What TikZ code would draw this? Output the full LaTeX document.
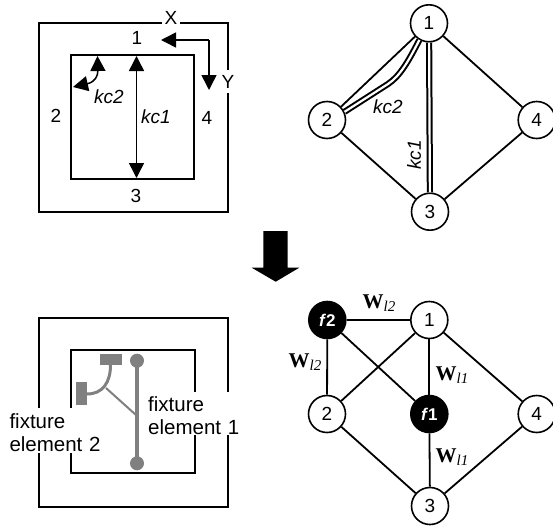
\documentclass[tikz,border=0pt]{standalone}
\usepackage{fontspec}
\usepackage{tikz}
\setmainfont{Liberation Sans}
\newfontfamily\timesfont{Liberation Serif}
\usetikzlibrary{positioning,arrows.meta}

\tikzset{
    panel/.style={line width=1.8pt},
    vertex/.style={circle, draw, line width=1.6pt, fill=white, minimum size=37pt, inner sep=0pt, font=\fontsize{19}{19}\selectfont},
    fixturevertex/.style={circle, draw, line width=1.6pt, fill=black, text=white, minimum size=37pt, inner sep=0pt, font=\fontsize{17}{17}\selectfont\bfseries},
    member/.style={line width=1.8pt},
    stiff/.style={double, double distance=2.2pt, line width=2pt},
    sidelabel/.style={font=\fontsize{19}{19}\selectfont, inner sep=1pt},
    kclabel/.style={font=\fontsize{19}{19}\selectfont\itshape, inner sep=0pt},
    fixturelabel/.style={font=\fontsize{20.5}{23}\selectfont, align=left, inner sep=0pt, text width=92pt},
    wlabel/.style={inner sep=0pt},
    dimline/.style={line width=1.5pt}
}
\newcommand{\wl}[1]{{\timesfont\fontsize{21}{21}\selectfont\textbf{W}\raisebox{-3pt}{\fontsize{15}{15}\selectfont\textit{l#1}}}}

\begin{document}
\begin{tikzpicture}[x=1pt, y=-1pt, >={Triangle[length=15pt,width=15pt]}]
    \useasboundingbox (0,0) rectangle (553,525);
    % top left plate
    \draw[panel] (38.7,23.3) rectangle (228,212);
    \draw[panel] (70.7,55.3) rectangle (194,178.7);
    \node[sidelabel, fill=white, inner xsep=3pt] (xlabel) at (171,18.3) {X};
    \node[sidelabel, fill=white, inner ysep=5pt] (ylabel) at (228,81.5) {Y};
    \node[sidelabel] (side1) at (137,38) {1};
    \node[sidelabel] (side2) at (56,116) {2};
    \node[sidelabel] (side3) at (136,196) {3};
    \node[sidelabel] (side4) at (207,118) {4};
    \coordinate (origin) at (209,40);
    \coordinate (xend) at (161,40);
    \coordinate (yend) at (209,90);
    \draw[dimline, ->] (origin) -- (xend);
    \draw[dimline, ->] (origin) -- (yend);
    \coordinate (kc1top) at (136.5,56);
    \coordinate (kc1bot) at (136.5,178);
    \draw[dimline, <->] (kc1top) -- (kc1bot);
    \coordinate (kc2top) at (97.5,56);
    \coordinate (kc2left) at (73,87);
    \draw[dimline, <->] (kc2top) .. controls (98,76) and (95,82) .. (kc2left);
    \node[kclabel] (kc2a) at (109,97) {kc2};
    \node[kclabel] (kc1a) at (156,117) {kc1};

    % top right graph
    \node[vertex] (a1) at (429,23.3) {1};
    \node[vertex] (a2) at (327,120) {2};
    \node[vertex] (a3) at (430,211.7) {3};
    \node[vertex] (a4) at (536.7,120) {4};
    \draw[member] (a1) -- (a2);
    \draw[member] (a1) -- (a4);
    \draw[member] (a2) -- (a3);
    \draw[member] (a4) -- (a3);
    \draw[stiff] (a1) -- (a3);
    \draw[stiff] (a1.240) .. controls (408,62) and (400,76) .. (388,84) -- (a2.25);
    \node[kclabel] (kc2b) at (388,107) {kc2};
    \node[kclabel, rotate=90] (kc1b) at (414,155) {kc1};

    % big arrow
    \fill (263.3,231) -- (287.7,231) -- (287.7,267.7) -- (299.3,267.7) -- (275.7,281.7) -- (251.7,267.7) -- (263.3,267.7) -- cycle;

    % bottom left plate
    \draw[panel] (39.3,318.3) rectangle (228.3,507);
    \draw[panel] (71.3,350) rectangle (195,473.3);
    \fill[white] (148,392) rectangle (240,435);
    \fill[white] (9.3,408) rectangle (102,453);
    \node[fixturelabel, anchor=north west] (fix1) at (148,396) {fixture\\element 1};
    \node[fixturelabel, anchor=north west] (fix2) at (9.3,413) {fixture\\element 2};
    \fill[gray] (100,354) rectangle (121.7,365);
    \fill[gray] (76.3,382.3) rectangle (87,404.7);
    \draw[gray, line width=3pt] (110.5,365) .. controls (110.5,382) and (103,394) .. (87,394);
    \draw[gray, line width=2pt] (106,388) -- (136,415);
    \draw[gray, line width=4pt] (137,360.7) -- (137,463.3);
    \fill[gray] (137,360.7) circle (7);
    \fill[gray] (137,463.3) circle (7);

    % bottom right graph
    \node[fixturevertex] (f2) at (327.3,320) {\textit{f}2};
    \node[vertex] (b1) at (429.3,320) {1};
    \node[vertex] (b2) at (327,414) {2};
    \node[fixturevertex] (f1) at (429.3,414) {\textit{f}1};
    \node[vertex] (b4) at (536.7,414) {4};
    \node[vertex] (b3) at (430,506) {3};
    \draw[member] (f2) -- (b1);
    \draw[member] (f2) -- (b2);
    \draw[member] (f2) -- (f1);
    \draw[member] (b1) -- (b2);
    \draw[member] (b1) -- (f1);
    \draw[member] (b1) -- (b4);
    \draw[member] (b2) -- (b3);
    \draw[member] (f1) -- (b3);
    \draw[member] (b4) -- (b3);
    \node[wlabel] (w1) at (379,303) {\wl{2}};
    \node[wlabel] (w2) at (305,362) {\wl{2}};
    \node[wlabel] (w3) at (452,375) {\wl{1}};
    \node[wlabel] (w4) at (452,457) {\wl{1}};
\end{tikzpicture}
\end{document}
